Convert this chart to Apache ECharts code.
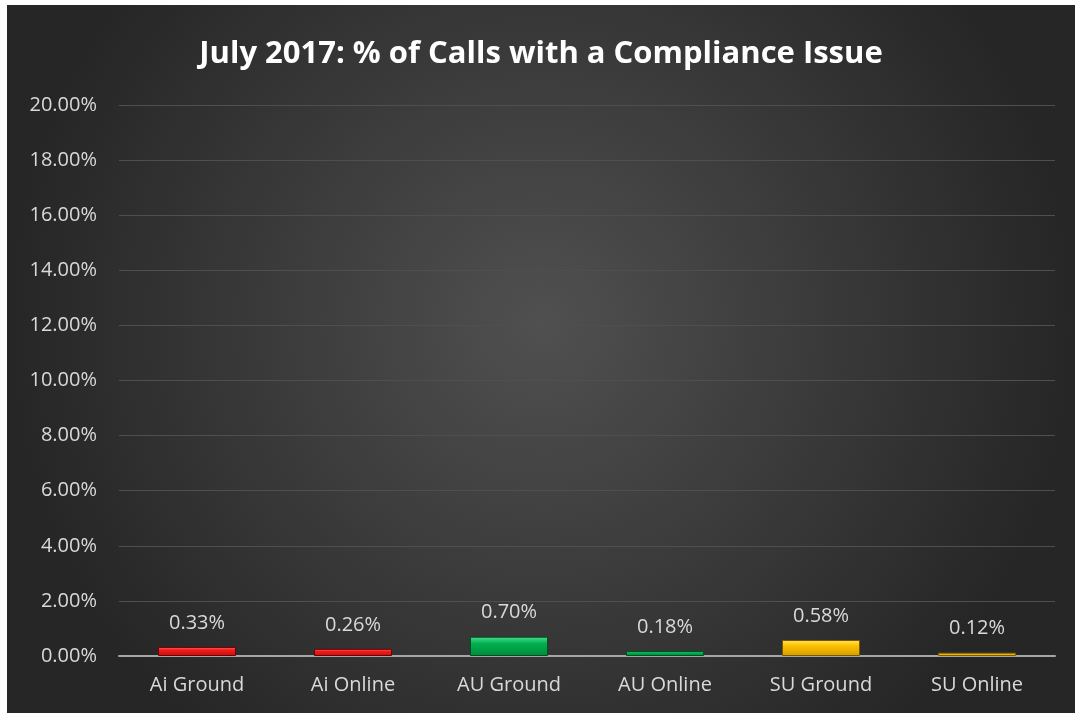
<!DOCTYPE html>
<html><head><meta charset="utf-8">
<script src="https://cdn.jsdelivr.net/npm/echarts@6/dist/echarts.min.js"></script>
<style>
html,body{margin:0;padding:0;background:#fff;}
#c{position:absolute;left:7px;top:5px;width:1068px;height:708px;}
</style></head>
<body><div id="c"></div>
<script>
const categories = ['Ai Ground','Ai Online','AU Ground','AU Online','SU Ground','SU Online'];
const values = [0.33, 0.26, 0.70, 0.18, 0.58, 0.12];
const title = 'July 2017: % of Calls with a Compliance Issue';

const palettes = [
  ['#ff6a6a','#f21b1b','#c40f0f'],
  ['#ff6a6a','#f21b1b','#c40f0f'],
  ['#4fe08e','#00b050','#008a3c'],
  ['#4fe08e','#00b050','#008a3c'],
  ['#ffe866','#ffc000','#d49d00'],
  ['#ffe866','#ffc000','#d49d00']
];
const borders = ['#6b0000','#6b0000','#004d22','#004d22','#7a5a00','#7a5a00'];

const chart = echarts.init(document.getElementById('c'), null, {renderer:'canvas'});
chart.setOption({
  backgroundColor: {
    type:'radial', x:0.5, y:0.45, r:0.75,
    colorStops:[{offset:0,color:'#505050'},{offset:1,color:'#262626'}]
  },
  title:{
    text:title, left:'center', top:29,
    textStyle:{color:'#ffffff', fontFamily:'Open Sans', fontWeight:'bold', fontSize:31}
  },
  grid:{left:112, right:20, top:100, bottom:57},
  xAxis:{
    type:'category', data:categories,
    axisLine:{lineStyle:{color:'#a6a6a6', width:2}},
    axisTick:{show:false},
    axisLabel:{color:'#d9d9d9', fontFamily:'Open Sans', fontSize:20, margin:19}
  },
  yAxis:{
    type:'value', min:0, max:20, interval:2,
    axisLine:{show:false}, axisTick:{show:false},
    splitLine:{lineStyle:{color:'#4f4f4f', width:1}},
    axisLabel:{color:'#d9d9d9', fontFamily:'Open Sans', fontSize:20, margin:22,
      formatter:v=>v.toFixed(2)+'%'}
  },
  series:[{
    type:'bar', barWidth:'50%',
    data: values.map((v,i)=>({
      value:v,
      itemStyle:{
        color:{type:'linear',x:0,y:0,x2:0,y2:1,colorStops:[
          {offset:0,color:palettes[i][0]},{offset:0.35,color:palettes[i][1]},{offset:1,color:palettes[i][2]}]},
        borderColor:borders[i], borderWidth:1
      }
    })),
    label:{show:true, position:'top', distance:14, color:'#d9d9d9', fontFamily:'Open Sans', fontSize:20,
      formatter:p=>p.value.toFixed(2)+'%'}
  }]
});
</script></body></html>
